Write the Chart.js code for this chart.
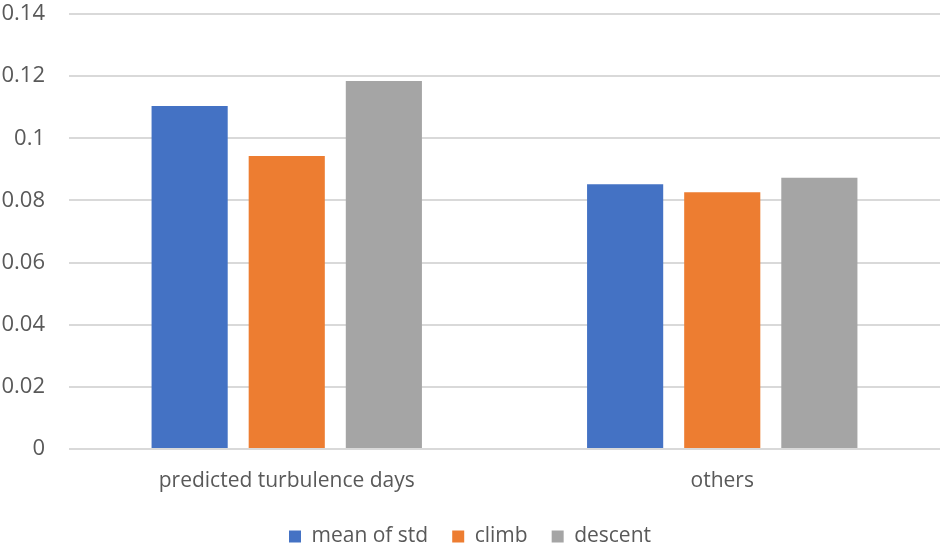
<!DOCTYPE html>
<html>
<head>
<meta charset="utf-8">
<script src="https://cdn.jsdelivr.net/npm/chart.js@4"></script>
<style>
  html, body { margin: 0; padding: 0; background: #fff; }
  #wrap { width: 943px; height: 546px; }
</style>
</head>
<body>
<div id="wrap"><canvas id="turbChart"></canvas></div>
<script>
// values
const categories = ['predicted turbulence days', 'others'];
const meanOfStd = [0.1104, 0.0852];
const climb = [0.0943, 0.0826];
const descent = [0.1184, 0.0873];
const yTicks = [0, 0.02, 0.04, 0.06, 0.08, 0.1, 0.12, 0.14];

const textColor = '#595959';
const fontFamily = '"Open Sans", "Noto Sans", sans-serif';

// legend padding also sets the gap between items, so pin its height here
const legendHeight = {
  id: 'legendHeight',
  beforeUpdate(chart) {
    const legend = chart.legend;
    if (!legend || legend._pinned) return;
    const origFit = legend.fit;
    legend.fit = function () {
      origFit.call(this);
      this.height = 44;
    };
    legend._pinned = true;
  }
};

window.onload = function () {
  const ctx = document.getElementById('turbChart').getContext('2d');

  new Chart(ctx, {
    type: 'bar',
    data: {
      labels: categories,
      datasets: [
        { label: 'mean of std', data: meanOfStd, backgroundColor: '#4472c4' },
        { label: 'climb', data: climb, backgroundColor: '#ed7d31' },
        { label: 'descent', data: descent, backgroundColor: '#a5a5a5' }
      ]
    },
    plugins: [legendHeight],
    options: {
      responsive: true,
      maintainAspectRatio: false,
      animation: false,
      layout: { padding: { top: 0, right: 3, left: 0, bottom: 0 } },
      datasets: {
        bar: { categoryPercentage: 0.669, barPercentage: 0.784 }
      },
      plugins: {
        tooltip: { enabled: false },
        legend: {
          position: 'bottom',
          labels: {
            boxWidth: 12,
            boxHeight: 12,
            padding: 24,
            color: textColor,
            font: { family: fontFamily, size: 21 }
          }
        }
      },
      scales: {
        x: {
          grid: { display: false, drawTicks: false },
          border: { display: false },
          ticks: {
            color: textColor,
            padding: 19,
            font: { family: fontFamily, size: 21 }
          },
          afterFit: scale => { scale.height = 53; }
        },
        y: {
          min: 0,
          max: 0.14,
          afterBuildTicks: scale => {
            scale.ticks = yTicks.map(v => ({ value: v }));
          },
          grid: { color: '#d9d9d9', lineWidth: 2, drawTicks: false },
          border: { display: false },
          ticks: {
            color: textColor,
            padding: 24,
            font: { family: fontFamily, size: 22 },
            callback: v => String(Math.round(v * 100) / 100)
          },
          afterFit: scale => {
            scale.width = 69;
            scale.paddingTop = 14;
            scale.paddingBottom = 0;
          }
        }
      }
    }
  });
};
</script>
</body>
</html>
